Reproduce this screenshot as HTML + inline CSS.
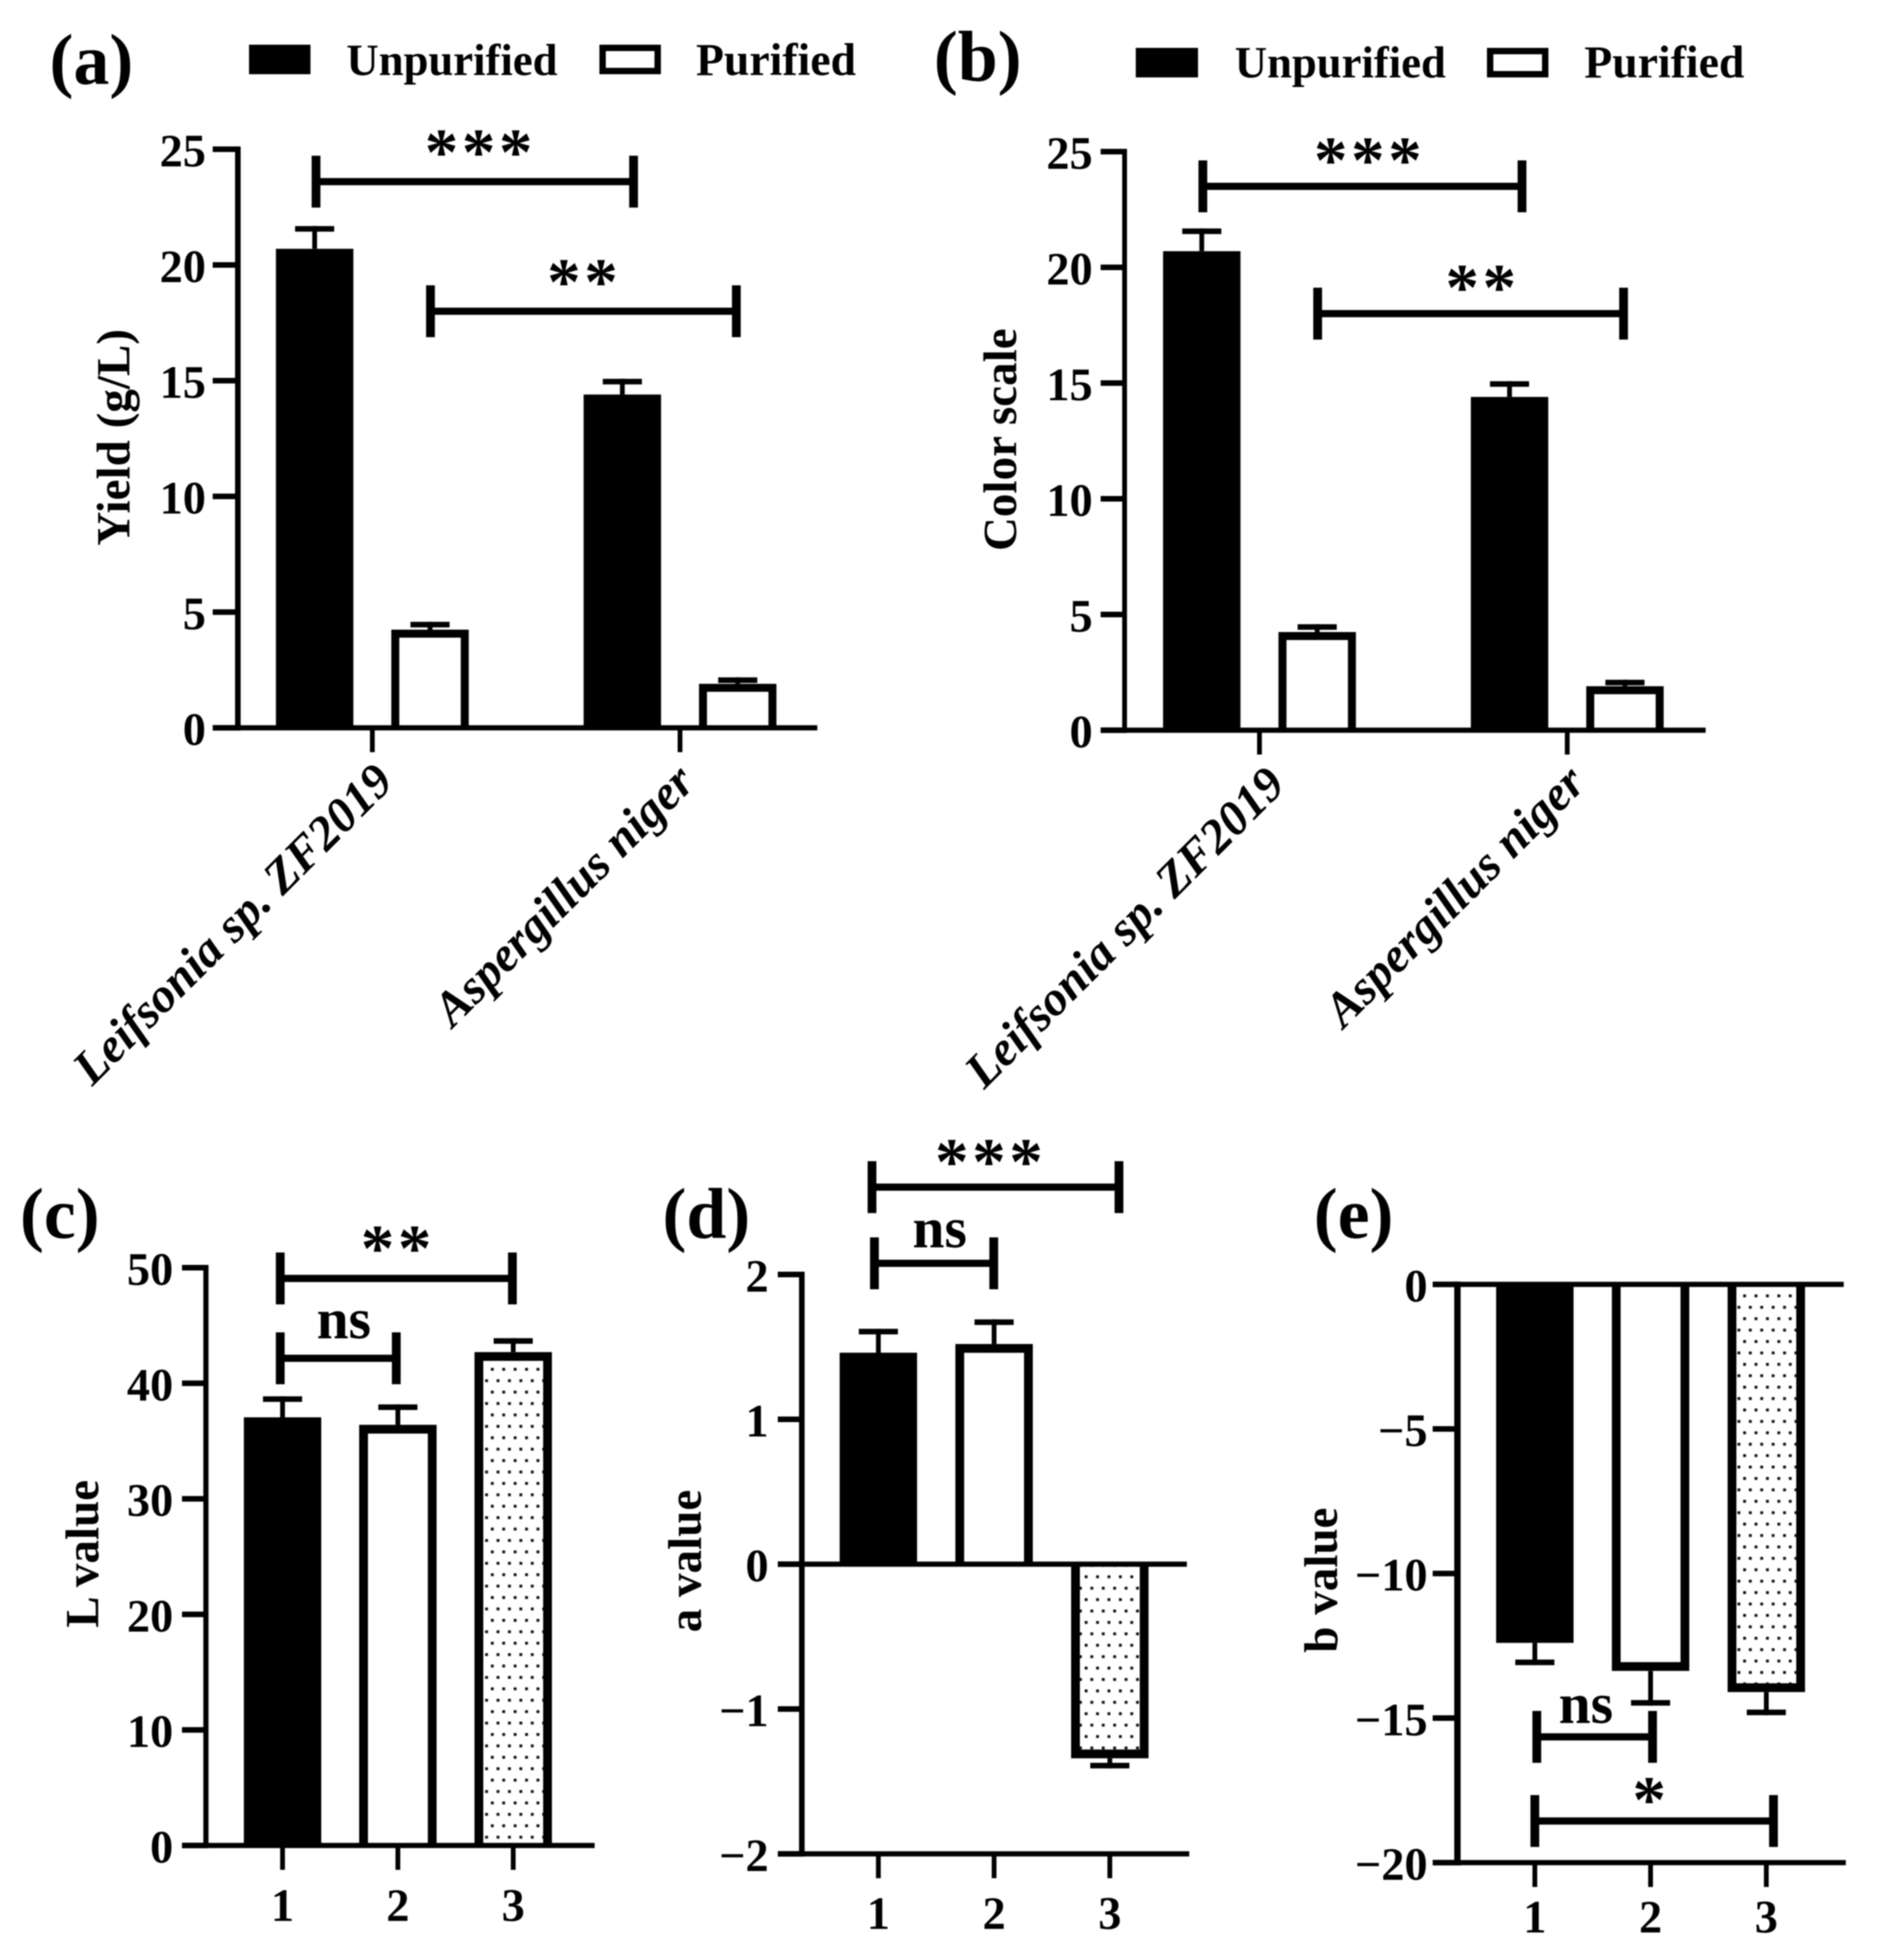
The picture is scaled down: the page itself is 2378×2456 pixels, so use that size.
<!DOCTYPE html>
<html lang="en">
<head>
<meta charset="utf-8">
<title>Yield, color scale and L a b values of unpurified and purified pigments</title>
<style>
  html, body { margin: 0; padding: 0; background: #fff; }
  svg { display: block; filter: blur(0.9px); }
  text { font-family: "Liberation Serif", serif; font-weight: bold; fill: #000; }
  .panel-label { font-size: 90px; }
  .legend-text { font-size: 56px; }
  .legend-text-short { font-size: 57.3px; }
  .axis-title { font-size: 59px; text-anchor: middle; }
  .tick { font-size: 58px; }
  .cat { font-size: 61px; font-style: italic; text-anchor: end; }
  .stars { font-size: 84px; text-anchor: middle; letter-spacing: 4.5px; }
  .ns { font-size: 72px; text-anchor: middle; }
</style>
</head>
<body>
<svg id="figure" xmlns="http://www.w3.org/2000/svg" width="2378" height="2456" viewBox="0 0 2378 2456">
  <defs>
    <pattern id="dots-c" patternUnits="userSpaceOnUse" x="615" y="1714" width="14.3" height="28.6"><rect x="0" y="0" width="3.6" height="3.6" fill="#111"/><rect x="7.15" y="14.3" width="3.6" height="3.6" fill="#111"/></pattern>
    <pattern id="dots-d" patternUnits="userSpaceOnUse" x="1359" y="1974" width="14.3" height="28.6"><rect x="0" y="0" width="3.6" height="3.6" fill="#111"/><rect x="7.15" y="14.3" width="3.6" height="3.6" fill="#111"/></pattern>
    <pattern id="dots-e" patternUnits="userSpaceOnUse" x="2184" y="1622" width="14.3" height="28.6"><rect x="0" y="0" width="3.6" height="3.6" fill="#111"/><rect x="7.15" y="14.3" width="3.6" height="3.6" fill="#111"/></pattern>
  </defs>
  <rect x="0" y="0" width="2378" height="2456" fill="#fff"/>

  <g id="panel-a">
    <text class="panel-label" x="62" y="105">(a)</text>
    <rect x="312" y="56" width="77" height="37" fill="#000"/>
    <text class="legend-text" x="434" y="94">Unpurified</text>
    <rect x="755" y="60" width="69" height="29" fill="#fff" stroke="#000" stroke-width="8"/>
    <text class="legend-text-short" x="872" y="94">Purified</text>
    <text class="axis-title" transform="translate(162 548) rotate(-90)">Yield (g/L)</text>
  </g>

  <g id="panel-b">
    <text class="panel-label" x="1170" y="101">(b)</text>
    <rect x="1423" y="60" width="78" height="37" fill="#000"/>
    <text class="legend-text" x="1547" y="97">Unpurified</text>
    <rect x="1867" y="64" width="69" height="29" fill="#fff" stroke="#000" stroke-width="8"/>
    <text class="legend-text-short" x="1985" y="97">Purified</text>
    <text class="axis-title" transform="translate(1273 551) rotate(-90)">Color scale</text>
  </g>

  <g id="panel-c">
    <text class="panel-label" x="25" y="1551">(c)</text>
    <text class="axis-title" transform="translate(123 1947) rotate(-90)">L value</text>
  </g>

  <g id="panel-d">
    <text class="panel-label" x="830" y="1551">(d)</text>
    <text class="axis-title" transform="translate(878 1956) rotate(-90)">a value</text>
  </g>

  <g id="panel-e">
    <text class="panel-label" x="1646" y="1551">(e)</text>
    <text class="axis-title" transform="translate(1675 1980) rotate(-90)">b value</text>
  </g>
</svg>

<script>
// ---- Panel (a) data ----
const aCategories = ['Leifsonia sp. ZF2019', 'Aspergillus niger'];
const aUnpurified = [20.7, 14.4];
const aUnpurifiedErr = [0.98, 0.68];
const aPurified = [4.24, 1.9];
const aPurifiedErr = [0.34, 0.28];
const aTickLabels = [0, 5, 10, 15, 20, 25];
const aBracketFrom = [-0.183, 0.189];
const aBracketTo = [0.849, 1.183];
const aBracketLevel = [23.6, 18];
const aBracketText = ['***', '**'];

// ---- Panel (b) data ----
const bCategories = ['Leifsonia sp. ZF2019', 'Aspergillus niger'];
const bUnpurified = [20.7, 14.4];
const bUnpurifiedErr = [0.98, 0.68];
const bPurified = [4.24, 1.9];
const bPurifiedErr = [0.34, 0.28];
const bTickLabels = [0, 5, 10, 15, 20, 25];
const bBracketFrom = [-0.184, 0.189];
const bBracketTo = [0.853, 1.183];
const bBracketLevel = [23.5, 18];
const bBracketText = ['***', '**'];

// ---- Panel (c) data ----
const cCategories = ['1', '2', '3'];
const cValues = [37.05, 36.4, 42.7];
const cErrors = [1.82, 1.77, 1.2];
const cTickLabels = [0, 10, 20, 30, 40, 50];
const cBracketFrom = [-0.02, -0.02];
const cBracketTo = [1.993, 0.986];
const cBracketLevel = [49.07, 42.16];
const cBracketText = ['**', 'ns'];

// ---- Panel (d) data ----
const dCategories = ['1', '2', '3'];
const dValues = [1.46, 1.52, -1.34];
const dErrors = [0.165, 0.17, 0.07];
const dTickLabels = [-2, -1, 0, 1, 2];
const dBracketFrom = [-0.055, -0.034];
const dBracketTo = [2.079, 0.997];
const dBracketLevel = [2.603, 2.077];
const dBracketText = ['***', 'ns'];

// ---- Panel (e) data ----
const eCategories = ['1', '2', '3'];
const eValues = [-12.4, -13.37, -14.1];
const eErrors = [0.77, 1.2, 0.8];
const eTickLabels = [-20, -15, -10, -5, 0];
const eBracketFrom = [0.017, 0];
const eBracketTo = [1.017, 2.062];
const eBracketLevel = [-15.65, -18.56];
const eBracketText = ['ns', '*'];

// ---- Axis functions ----
function linear(origin, unit) {
  return function (v) { return origin + unit * v; };
}
const axesA = { x: linear(466.5, 385.5), y: linear(912, -29) };
const axesB = { x: linear(1578, 385.6), y: linear(915, -29) };
const axesC = { x: linear(354, 144.5), y: linear(2312.5, -14.48) };
const axesD = { x: linear(1100.5, 145), y: linear(1960, -181.5) };
const axesE = { x: linear(1923, 145), y: linear(1609.4, -36.23) };

const NS = 'http://www.w3.org/2000/svg';

function shape(parent, tag, props) {
  const el = document.createElementNS(NS, tag);
  Object.keys(props).forEach(function (k) { el.setAttribute(k, props[k]); });
  parent.appendChild(el);
  return el;
}

function solid(parent, x0, y0, x1, y1) {
  return shape(parent, 'rect', {
    x: Math.min(x0, x1), y: Math.min(y0, y1),
    width: Math.abs(x1 - x0), height: Math.abs(y1 - y0), fill: '#000'
  });
}

function fmt(v) {
  return String(v).replace('-', '\u2212');
}

function drawBar(parent, axes, pos, value, err, halfWidth, fill, stroke) {
  const cx = axes.x(pos);
  const dir = value >= 0 ? -1 : 1;
  const tip = axes.y(value + dir * -1 * err);
  const base = axes.y(0);
  const inset = stroke / 2;
  const x0 = cx - halfWidth + inset;
  const x1 = cx + halfWidth - inset;
  const end = axes.y(value) - dir * inset;

  const stem = solid(parent, cx - 3, axes.y(value), cx + 3, tip);
  
  

  const cap = solid(parent, cx - 24.5, tip, cx + 24.5, tip - dir * 7);
  
  

  const bar = shape(parent, 'path', {
    d: 'M' + x0 + ' ' + base + 'L' + x0 + ' ' + end + 'L' + x1 + ' ' + end + 'L' + x1 + ' ' + base,
    fill: fill, stroke: '#000', 'stroke-width': stroke
  });
  
  
}

function drawYAxis(parent, axes, ticks, axisX, tickLeft, labelRight, width) {
  const lo = axes.y(Math.min.apply(null, ticks));
  const hi = axes.y(Math.max.apply(null, ticks));
  const spine = solid(parent, axisX - width / 2, hi - 3.5, axisX + width / 2, lo + 3.5);
  
  
  ticks.forEach(function (t) {
    const py = axes.y(t);
    const tick = solid(parent, tickLeft, py - 3.5, axisX, py + 3.5);
    
    
    const label = shape(parent, 'text', { class: 'tick', x: labelRight, y: py + 21.5, 'text-anchor': 'end' });
    label.textContent = fmt(t);
    
    
  });
}

function drawXAxis(parent, axes, count, lineY, left, right) {
  const line = solid(parent, left, lineY - 3.25, right, lineY + 3.25);
  
  
  for (let i = 0; i < count; i++) {
    const px = axes.x(i);
    const tick = solid(parent, px - 3, lineY, px + 3, lineY + 30.5);
    
    
  }
}

function drawNumericCategories(parent, axes, cats, baseline) {
  cats.forEach(function (c, i) {
    const label = shape(parent, 'text', { class: 'tick', x: axes.x(i), y: baseline, 'text-anchor': 'middle' });
    label.textContent = c;
    
    
  });
}

function drawSlantedCategory(parent, axes, i, text, dx, baselineY) {
  const px = axes.x(i) + dx;
  const label = shape(parent, 'text', { class: 'cat', transform: 'translate(' + px + ' ' + baselineY + ') rotate(-45)' });
  label.textContent = text;
  
  
}

function drawBracket(parent, axes, from, to, level, text, labelDx, labelDy) {
  const x0 = axes.x(from);
  const x1 = axes.x(to);
  const py = axes.y(level);

  const bar = solid(parent, x0, py - 4.5, x1, py + 4.5);
  
  

  const leftEnd = solid(parent, x0 - 5.5, py - 32.5, x0 + 5.5, py + 32.5);
  
  

  const rightEnd = solid(parent, x1 - 5.5, py - 32.5, x1 + 5.5, py + 32.5);
  
  

  const label = shape(parent, 'text', {
    class: text === 'ns' ? 'ns' : 'stars',
    x: (x0 + x1) / 2 + labelDx, y: py + labelDy
  });
  label.textContent = text;
  
  
}

function drawGrouped(parent, axes, unpurified, unpurifiedErr, purified, purifiedErr) {
  unpurified.forEach(function (v, i) {
    drawBar(parent, axes, i - 0.1875, v, unpurifiedErr[i], 48.5, '#000', 0);
  });
  purified.forEach(function (v, i) {
    drawBar(parent, axes, i + 0.1875, v, purifiedErr[i], 48.5, '#fff', 10);
  });
}

function drawTriple(parent, axes, values, errors, dotFill) {
  const fills = ['#000', '#fff', dotFill];
  const strokes = [0, 11, 11];
  values.forEach(function (v, i) {
    drawBar(parent, axes, i, v, errors[i], 48.5, fills[i], strokes[i]);
  });
}

// ---- Panel (a) ----
const gA = document.getElementById('panel-a');
drawGrouped(gA, axesA, aUnpurified, aUnpurifiedErr, aPurified, aPurifiedErr);
drawXAxis(gA, axesA, aCategories.length, axesA.y(0), 266.5, 1024);
drawYAxis(gA, axesA, aTickLabels, 298, 266.5, 258, 7);
drawSlantedCategory(gA, axesA, 0, aCategories[0], 29, 982);
drawSlantedCategory(gA, axesA, 1, aCategories[1], 21, 983);
drawBracket(gA, axesA, aBracketFrom[0], aBracketTo[0], aBracketLevel[0], aBracketText[0], 7, -9);
drawBracket(gA, axesA, aBracketFrom[1], aBracketTo[1], aBracketLevel[1], aBracketText[1], 1, -9);

// ---- Panel (b) ----
const gB = document.getElementById('panel-b');
drawGrouped(gB, axesB, bUnpurified, bUnpurifiedErr, bPurified, bPurifiedErr);
drawXAxis(gB, axesB, bCategories.length, axesB.y(0), 1379, 2137);
drawYAxis(gB, axesB, bTickLabels, 1409, 1379, 1369, 6);
drawSlantedCategory(gB, axesB, 0, bCategories[0], 35, 986);
drawSlantedCategory(gB, axesB, 1, bCategories[1], 25.5, 984);
drawBracket(gB, axesB, bBracketFrom[0], bBracketTo[0], bBracketLevel[0], bBracketText[0], 9, -5);
drawBracket(gB, axesB, bBracketFrom[1], bBracketTo[1], bBracketLevel[1], bBracketText[1], 15, -5);

// ---- Panel (c) ----
const gC = document.getElementById('panel-c');
drawTriple(gC, axesC, cValues, cErrors, 'url(#dots-c)');
drawXAxis(gC, axesC, cCategories.length, axesC.y(0), 228, 745);
drawYAxis(gC, axesC, cTickLabels, 258, 228, 217, 6.5);
drawNumericCategories(gC, axesC, cCategories, 2407);
drawBracket(gC, axesC, cBracketFrom[0], cBracketTo[0], cBracketLevel[0], cBracketText[0], 2, -10);
drawBracket(gC, axesC, cBracketFrom[1], cBracketTo[1], cBracketLevel[1], cBracketText[1], 7, -25);

// ---- Panel (d) ----
const gD = document.getElementById('panel-d');
drawTriple(gD, axesD, dValues, dErrors, 'url(#dots-d)');
drawXAxis(gD, axesD, 0, axesD.y(0), 974.5, 1487);
drawXAxis(gD, axesD, dCategories.length, axesD.y(-2), 974.5, 1490);
drawYAxis(gD, axesD, dTickLabels, 1004.6, 974.5, 963, 7);
drawNumericCategories(gD, axesD, dCategories, 2417);
drawBracket(gD, axesD, dBracketFrom[0], dBracketTo[0], dBracketLevel[0], dBracketText[0], -6, -4);
drawBracket(gD, axesD, dBracketFrom[1], dBracketTo[1], dBracketLevel[1], dBracketText[1], 7, -20);

// ---- Panel (e) ----
const gE = document.getElementById('panel-e');
drawTriple(gE, axesE, eValues, eErrors, 'url(#dots-e)');
drawXAxis(gE, axesE, 0, axesE.y(0), 1795, 2310);
drawXAxis(gE, axesE, eCategories.length, axesE.y(-20), 1795, 2312.6);
drawYAxis(gE, axesE, eTickLabels, 1826, 1795, 1788.6, 8);
drawNumericCategories(gE, axesE, eCategories, 2421.5);
drawBracket(gE, axesE, eBracketFrom[0], eBracketTo[0], eBracketLevel[0], eBracketText[0], -11, -17.5);
drawBracket(gE, axesE, eBracketFrom[1], eBracketTo[1], eBracketLevel[1], eBracketText[1], -4, 1);
</script>
</body>
</html>
